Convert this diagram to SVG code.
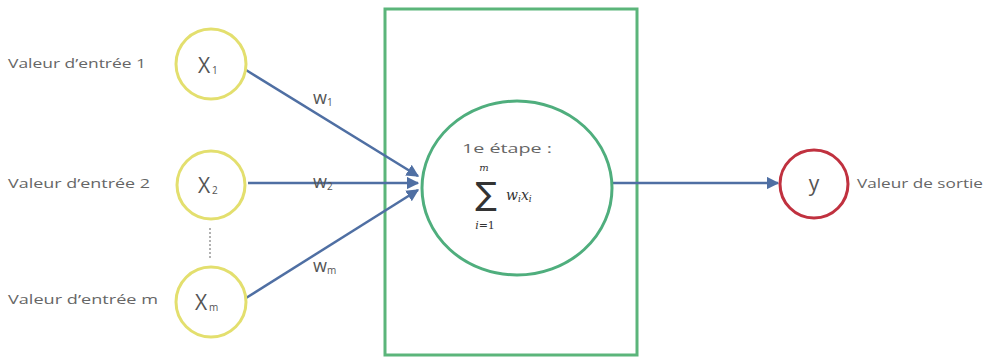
<svg xmlns="http://www.w3.org/2000/svg" width="987" height="361" viewBox="0 0 987 361">
<defs>
<style>
.lbl{font-family:"Open Sans","Liberation Sans",sans-serif;font-size:13.5px;fill:#666}
.in{fill:#fff;stroke:#e3df6e;stroke-width:3}
.var{font-family:"Open Sans","Liberation Sans",sans-serif;font-size:21px;fill:#555}
.sub{font-family:"Open Sans","Liberation Sans",sans-serif;font-size:10px;fill:#555}
.w{font-family:"Open Sans","Liberation Sans",sans-serif;font-size:18px;fill:#555}
.edge{stroke:#4f6fa3;stroke-width:2.5;fill:none;marker-end:url(#ah)}
</style>
<marker id="ah" viewBox="0 0 10 10" refX="9" refY="5" markerWidth="5" markerHeight="5" orient="auto" markerUnits="strokeWidth">
<path d="M0,0 L10,5 L0,10 z" fill="#4f6fa3"/>
</marker>
</defs>
<rect width="987" height="361" fill="#fff"/>
<g id="box">
<rect x="385" y="9" width="252" height="346" fill="none" stroke="#5bb57a" stroke-width="3"/>
</g>
<g id="connectors">
<line class="edge" x1="246" y1="70" x2="418" y2="176"/>
<line class="edge" x1="248" y1="183" x2="418" y2="183"/>
<line class="edge" x1="246" y1="298" x2="418" y2="190"/>
<line class="edge" x1="612" y1="183" x2="778" y2="183"/>
<line x1="210" y1="228" x2="210" y2="260" stroke="#999" stroke-width="1.5" stroke-dasharray="2 2"/>
<text class="w" x="313" y="104">w</text><text class="sub" x="327" y="106">1</text>
<text class="w" x="313" y="188">w</text><text class="sub" x="327" y="190" font-size="13">2</text>
<text class="w" x="313" y="272">w</text><text class="sub" x="327" y="274" font-size="12">m</text>
</g>
<g id="x1">
<circle class="in" cx="211" cy="64" r="35"/>
<text class="var" x="198" y="73">X</text><text class="sub" x="212" y="74">1</text>
<text class="lbl" x="8" y="68" textLength="138" lengthAdjust="spacingAndGlyphs">Valeur d’entrée 1</text>
</g>
<g id="x2">
<circle class="in" cx="211" cy="185" r="34"/>
<text class="var" x="198" y="193">X</text><text class="sub" x="212" y="194" font-size="12">2</text>
<text class="lbl" x="8" y="188" textLength="142" lengthAdjust="spacingAndGlyphs">Valeur d’entrée 2</text>
</g>
<g id="xm">
<circle class="in" cx="211" cy="302" r="35"/>
<text class="var" x="195" y="310">X</text><text class="sub" x="209" y="311" font-size="12">m</text>
<text class="lbl" x="8" y="304" textLength="150" lengthAdjust="spacingAndGlyphs">Valeur d’entrée m</text>
</g>
<g id="sum">
<ellipse cx="517" cy="188" rx="95" ry="87" fill="#fff" stroke="#4fae7d" stroke-width="3"/>
<text class="lbl" x="462" y="153" font-size="16" textLength="90" lengthAdjust="spacingAndGlyphs">1e étape :</text>
<text x="484" y="171" font-family="'DejaVu Serif',serif" font-style="italic" font-size="10" fill="#333" text-anchor="middle">m</text>
<text x="486" y="205" font-family="'DejaVu Sans',sans-serif" font-size="32" fill="#333" text-anchor="middle">∑</text>
<text x="485" y="229" font-family="'DejaVu Serif',serif" font-size="11" fill="#333" text-anchor="middle"><tspan font-style="italic">i</tspan>=1</text>
<text x="506" y="200" font-family="'DejaVu Serif',serif" font-style="italic" font-size="14" fill="#333">w<tspan font-size="9" dy="2">i</tspan><tspan dy="-2">x</tspan><tspan font-size="9" dy="2">i</tspan></text>
</g>
<g id="y">
<circle cx="814" cy="184" r="34" fill="#fff" stroke="#c0313f" stroke-width="3"/>
<text class="var" x="814" y="191" text-anchor="middle" font-size="20">y</text>
<text class="lbl" x="857" y="188" textLength="126" lengthAdjust="spacingAndGlyphs">Valeur de sortie</text>
</g>
</svg>
